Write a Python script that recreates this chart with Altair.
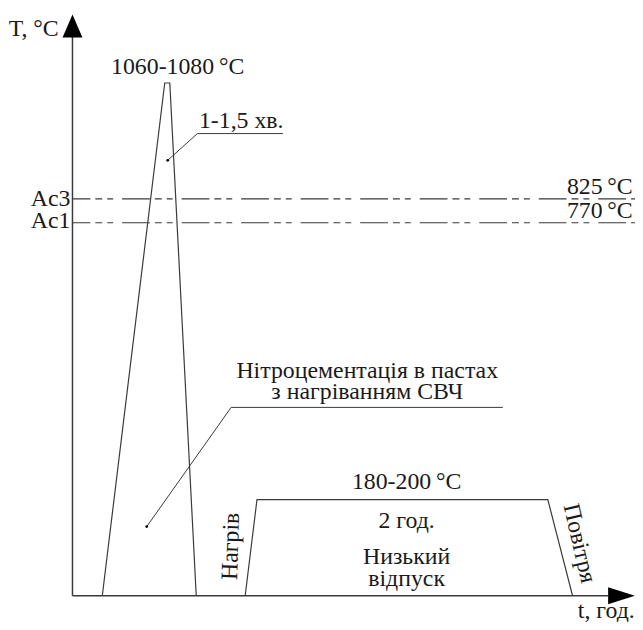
import altair as alt
import pandas as pd

# ---- schematic data (t and T in arbitrary schematic units, 0..100) ----
spike_t = [5.3, 16.4, 17.3, 22.0]
spike_T = [0, 88.2, 88.2, 0]

temper_t = [30.7, 32.8, 84.5, 88.9]
temper_T = [0, 16.55, 16.55, 0]

crit_names = ["Ac3", "Ac1"]
crit_T = [68.26, 64.16]
crit_values = ["825\u2009°C", "770\u2009°C"]

leader1_t = [16.93, 22.2, 37.4]
leader1_T = [74.9, 79.5, 79.5]
leader2_t = [13.2, 28.2, 76.5]
leader2_T = [11.9, 32.4, 32.4]

center_labels = ["T, °C", "1060-1080\u2009°C", "1-1,5 хв.", "Нітроцементація в пастах",
                 "з нагріванням СВЧ", "180-200\u2009°C", "2 год.", "Низький", "відпуск", "t, год."]
center_t = [-6.9, 18.7, 30.0, 52.4, 52.4, 59.4, 59.4, 59.4, 59.4, 94.9]
center_T = [96.2, 89.8, 80.4, 37.5, 33.8, 18.4, 11.6, 5.5, 1.7, -3.8]

right_labels = crit_names + crit_values
right_t = [-0.35, -0.35, 99.6, 99.6]
right_T = [67.1, 63.3, 69.1, 65.0]

rot_labels = ["Нагрів", "Повітря"]
rot_t = [28.2, 90.1]
rot_T = [8.5, 9.0]
rot_angle = [272, 77]

FONT = "'Liberation Serif', 'Times New Roman', serif"
FS = 24
LINE = "#3a3a3a"
TXT = "#1a1a1a"

xs = alt.Scale(domain=[0, 100], nice=False, zero=False)
ys = alt.Scale(domain=[0, 100], nice=False, zero=False)


def X(f="t"):
    return alt.X(f"{f}:Q", scale=xs, axis=None)


def Y(f="T"):
    return alt.Y(f"{f}:Q", scale=ys, axis=None)


# axes
axes_df = pd.DataFrame({"t": [0, 0], "T": [0, 0], "t2": [0, 95.2], "T2": [96.1, 0]})
axes = alt.Chart(axes_df).mark_rule(color=LINE, strokeWidth=1.5).encode(
    x=X(), y=Y(), x2="t2:Q", y2="T2:Q")

arrow_up = alt.Chart(pd.DataFrame({"t": [0], "T": [98.0]})).mark_point(
    shape="M0,-1L0.87,1L-0.87,1Z", filled=True, size=529, color="black", opacity=1
).encode(x=X(), y=Y())
arrow_right = alt.Chart(pd.DataFrame({"t": [97.6], "T": [0]})).mark_point(
    shape="M1,0L-1,-0.63L-1,0.63Z", filled=True, size=729, color="black", opacity=1
).encode(x=X(), y=Y())

# process curves
curves_df = pd.DataFrame({
    "t": spike_t + temper_t,
    "T": spike_T + temper_T,
    "g": ["spike"] * len(spike_t) + ["temper"] * len(temper_t),
    "o": list(range(len(spike_t))) + list(range(len(temper_t))),
})
curves = alt.Chart(curves_df).mark_line(color=LINE, strokeWidth=1.2).encode(
    x=X(), y=Y(), detail="g:N", order="o:Q")

# critical points dash-dot lines
crit_df = pd.DataFrame({"T": crit_T, "t": [0, 0], "t2": [100, 100]})
crit = alt.Chart(crit_df).mark_rule(
    color=LINE, strokeWidth=1.2, strokeDash=[28, 5, 7, 5, 6, 9], strokeDashOffset=10
).encode(x=X(), x2="t2:Q", y=Y())

# leader lines
lead_df = pd.DataFrame({
    "t": leader1_t + leader2_t,
    "T": leader1_T + leader2_T,
    "g": ["a"] * 3 + ["b"] * 3,
    "o": [0, 1, 2] * 2,
})
leaders = alt.Chart(lead_df).mark_line(color=LINE, strokeWidth=1).encode(
    x=X(), y=Y(), detail="g:N", order="o:Q")
dots = alt.Chart(pd.DataFrame({"t": [leader1_t[0], leader2_t[0]], "T": [leader1_T[0], leader2_T[0]]})
                 ).mark_point(filled=True, size=8, color="black", opacity=1).encode(x=X(), y=Y())

# texts
ctext = alt.Chart(pd.DataFrame({"t": center_t, "T": center_T, "label": center_labels})).mark_text(
    font=FONT, fontSize=FS, align="center", baseline="alphabetic", color=TXT
).encode(x=X(), y=Y(), text="label:N")
rtext = alt.Chart(pd.DataFrame({"t": right_t, "T": right_T, "label": right_labels})).mark_text(
    font=FONT, fontSize=FS, align="right", baseline="alphabetic", color=TXT
).encode(x=X(), y=Y(), text="label:N")
rottext = alt.Chart(pd.DataFrame({"t": rot_t, "T": rot_T, "label": rot_labels, "a": rot_angle})).mark_text(
    font=FONT, fontSize=FS, align="center", baseline="middle", color=TXT
).encode(x=X(), y=Y(), text="label:N", angle=alt.Angle("a:Q", scale=None))

chart = alt.layer(
    crit, curves, leaders, dots, axes, arrow_up, arrow_right, ctext, rtext, rottext
).properties(
    width=567, height=586,
    autosize=alt.AutoSizeParams(type="none"),
    padding={"left": 65, "top": 4, "right": 0, "bottom": 24},
).configure_view(stroke=None)

chart.save("out.html", embed_options={"renderer": "svg", "actions": False})
